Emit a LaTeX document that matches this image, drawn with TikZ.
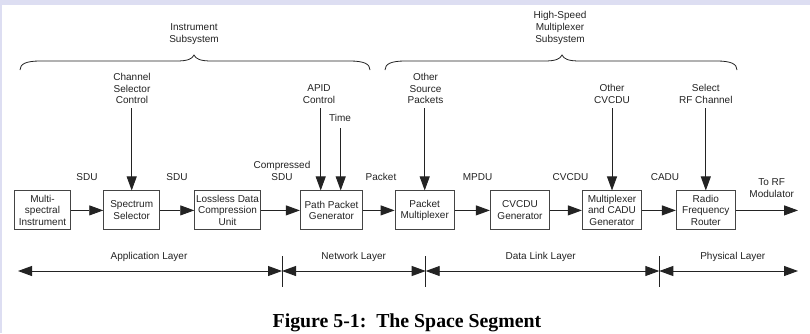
\documentclass[tikz,border=0pt]{standalone}
\usepackage{fontspec}
\setmainfont{Liberation Sans}
\newfontfamily\captionserif{Liberation Serif}
\usetikzlibrary{arrows.meta}
\definecolor{framebg}{RGB}{221,222,242}
\definecolor{ink}{RGB}{35,35,35}

\begin{document}
\begin{tikzpicture}[x=1pt,y=-1pt,
  lbl/.style={font=\fontsize{10}{11.8}\selectfont, align=center, inner sep=0pt, text=ink},
  blk/.style={draw=ink!85, line width=0.9pt, minimum height=39pt, inner sep=0pt,
              align=center, font=\fontsize{10}{11.8}\selectfont, text=ink, fill=white},
  flow/.style={draw=ink, line width=0.9pt, -{Triangle[length=14pt,width=10pt]}},
  span/.style={draw=ink, line width=0.9pt,
               {Triangle[length=14pt,width=10pt]}-{Triangle[length=14pt,width=10pt]}},
  divider/.style={draw=ink, line width=0.9pt},
  brace/.style={draw=ink, line width=0.8pt}]

% canvas and frame strips
\useasboundingbox (0,0) rectangle (810,333);
\fill[white] (0,0) rectangle (810,333);
\fill[framebg] (0,0) rectangle (810,5);
\fill[framebg] (0,0) rectangle (2,333);

% subsystem braces
\node[lbl] (instsub) at (194,34) {Instrument\\Subsystem};
\draw[brace] (20,70) .. controls (20,64) and (26,61) .. (40,61) -- (176,61)
  .. controls (188,61) and (192,59) .. (194,55)
  .. controls (196,59) and (200,61) .. (212,61) -- (350,61)
  .. controls (364,61) and (370,64) .. (370,70);
\node[lbl] (hssub) at (560,28) {High-Speed\\Multiplexer\\Subsystem};
\draw[brace] (385,70) .. controls (385,64) and (391,61) .. (405,61) -- (544,61)
  .. controls (556,61) and (560,59) .. (562,55)
  .. controls (564,59) and (568,61) .. (580,61) -- (717,61)
  .. controls (731,61) and (737,64) .. (737,70);

% processing blocks
\node[blk, minimum width=55.5pt] (msi) at (42.5,210.4) {Multi-\\spectral\\Instrument};
\node[blk, minimum width=56pt]   (ss)  at (131.7,210.4) {Spectrum\\Selector};
\node[blk, minimum width=65.6pt] (ldc) at (227.5,210.4) {Lossless Data\\Compression\\Unit};
\node[blk, minimum width=62.4pt] (ppg) at (331.5,210.4) {Path Packet\\Generator};
\node[blk, minimum width=59.3pt] (pm)  at (424.7,210.4) {Packet\\Multiplexer};
\node[blk, minimum width=59.4pt] (cg)  at (520,210.4) {CVCDU\\Generator};
\node[blk, minimum width=59.4pt] (mcg) at (612,210.4) {Multiplexer\\and CADU\\Generator};
\node[blk, minimum width=59pt]   (rfr) at (705.8,210.4) {Radio\\Frequency\\Router};

% data unit labels
\node[lbl] (sdu1)   at (87,177)   {SDU};
\node[lbl] (sdu2)   at (177,177)  {SDU};
\node[lbl] (csdu)   at (282,171)  {Compressed\\SDU};
\node[lbl] (pkt)    at (381,177)  {Packet};
\node[lbl] (mpdu)   at (477.5,177) {MPDU};
\node[lbl] (cvcdu)  at (570.5,177) {CVCDU};
\node[lbl] (cadu)   at (665,177)  {CADU};
\node[lbl] (tormod) at (771.7,188) {To RF\\Modulator};

% data flow
\coordinate (out) at (798,210.4);
\draw[flow] (msi) -- (ss);
\draw[flow] (ss) -- (ldc);
\draw[flow] (ldc) -- (ppg);
\draw[flow] (ppg) -- (pm);
\draw[flow] (pm) -- (cg);
\draw[flow] (cg) -- (mcg);
\draw[flow] (mcg) -- (rfr);
\draw[flow] (rfr) -- (out);

% control inputs
\node[lbl] (cscl)  at (132,88.5)  {Channel\\Selector\\Control};
\node[lbl] (apidl) at (319,94)    {APID\\Control};
\node[lbl] (timel) at (340,118)   {Time};
\node[lbl] (ospl)  at (425.5,88.5) {Other\\Source\\Packets};
\node[lbl] (ocvl)  at (612,94)    {Other\\CVCDU};
\node[lbl] (rfcl)  at (705.8,94)  {Select\\RF Channel};

\coordinate (cscTop)  at (131.7,108);
\coordinate (apidTop) at (320.7,108);
\coordinate (timeTop) at (340.7,128);
\coordinate (ospTop)  at (424.7,108);
\coordinate (ocvTop)  at (612,108);
\coordinate (rfcTop)  at (705.8,108);
\draw[flow] (cscTop) -- (ss.north);
\draw[flow] (apidTop) -- (apidTop |- ppg.north);
\draw[flow] (timeTop) -- (timeTop |- ppg.north);
\draw[flow] (ospTop) -- (pm.north);
\draw[flow] (ocvTop) -- (mcg.north);
\draw[flow] (rfcTop) -- (rfr.north);

% protocol layers
\coordinate (l0) at (18,271);
\coordinate (l1) at (282,271);
\coordinate (l2) at (425.7,271);
\coordinate (l3) at (659.3,271);
\coordinate (l4) at (798,271);
\draw[divider] (282,256) -- (282,287);
\draw[divider] (425.7,256) -- (425.7,287);
\draw[divider] (659.3,256) -- (659.3,287);
\draw[span] (l0) -- (l1);
\draw[span] (l1) -- (l2);
\draw[span] (l2) -- (l3);
\draw[span] (l3) -- (l4);
\node[lbl] (appl) at (149,257.3)   {Application Layer};
\node[lbl] (netl) at (353.7,257.3) {Network Layer};
\node[lbl] (dlkl) at (540.7,257.3) {Data Link Layer};
\node[lbl] (phyl) at (732.8,257.3) {Physical Layer};

% caption
\node[anchor=base, inner sep=0pt, font=\captionserif\bfseries\fontsize{19.8}{22}\selectfont]
  (caption) at (407,327) {Figure 5-1:\ \ The Space Segment};
\end{tikzpicture}
\end{document}
